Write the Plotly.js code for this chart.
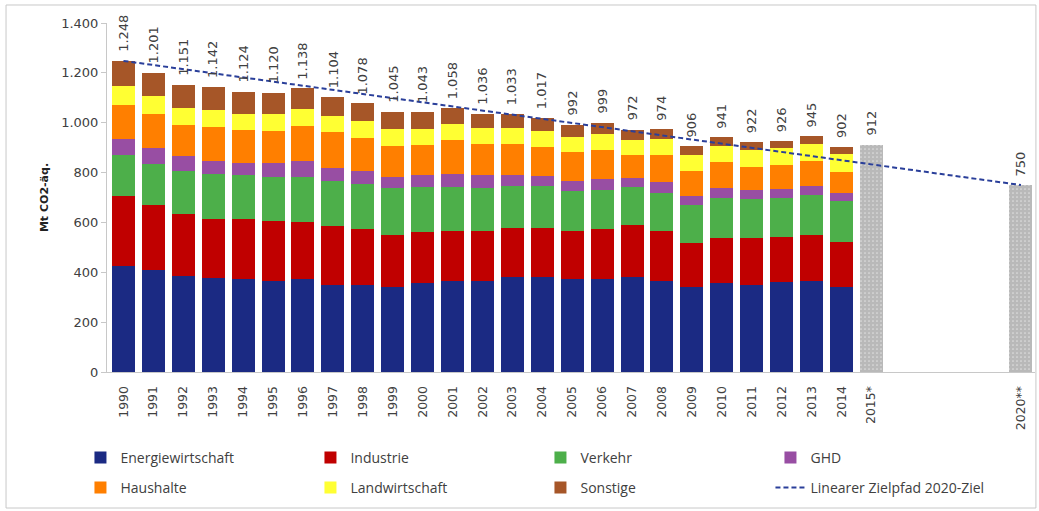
<!DOCTYPE html>
<html>
<head>
<meta charset="utf-8">
<script src="https://cdn.plot.ly/plotly-3.0.1.min.js"></script>
<style>
html,body{margin:0;padding:0;background:#ffffff;}
#chart{width:1039px;height:511px;}
</style>
</head>
<body>
<div id="chart"></div>
<script>
// ---- data (Mt CO2-äq.) ----
const years = [1990,1991,1992,1993,1994,1995,1996,1997,1998,1999,2000,2001,2002,2003,2004,2005,2006,2007,2008,2009,2010,2011,2012,2013,2014];
const energiewirtschaft = [426,410,387,378,374,365,373,351,351,343,357,367,367,383,381,375,375,383,366,343,357,351,362,366,342];
const industrie        = [281,260,247,237,241,241,228,236,222,207,204,199,199,194,196,192,200,207,200,174,182,188,180,184,181];
const verkehr          = [163,163,173,178,174,177,180,179,180,187,182,177,173,169,169,160,155,151,153,153,158,156,156,160,164];
const ghd              = [64,66,59,54,50,54,64,52,53,46,47,51,50,43,40,40,45,37,42,35,40,35,37,36,30];
const haushalte        = [136,136,124,136,131,130,141,143,132,123,119,135,124,125,117,114,115,93,110,102,104,93,95,100,84];
const landwirtschaft   = [76,71,69,67,63,66,69,65,68,68,66,66,64,65,64,62,64,59,64,63,65,67,67,67,73];
const sonstige         = [102,95,92,92,91,87,83,78,72,71,68,63,59,54,50,49,45,42,39,36,35,32,29,32,28];

const projYears  = [2015, 2020];
const projValues = [912, 750];
const projLabels = ['2015*', '2020**'];

const targetYears  = [1990, 2020];
const targetValues = [1248, 750];

const seriesNames  = ['Energiewirtschaft','Industrie','Verkehr','GHD','Haushalte','Landwirtschaft','Sonstige'];
const seriesValues = [energiewirtschaft, industrie, verkehr, ghd, haushalte, landwirtschaft, sonstige];
const seriesColors = ['#1b2a83','#c00000','#4daf4a','#984ea3','#ff7f00','#ffff33','#a65628'];
const seriesLegend = ['legend','legend','legend','legend','legend2','legend2','legend2'];

// ---- helpers ----
function fmtDE(v){
  const s = String(Math.round(v));
  return s.replace(/\B(?=(\d{3})+(?!\d))/g, '.');
}

const FONT = 'DejaVu Sans, Arial, sans-serif';
const TXT = '#404040';

const traces = seriesNames.map((name, i) => ({
  type: 'bar',
  name: name,
  x: years,
  y: seriesValues[i],
  width: 0.77,
  marker: {color: seriesColors[i], line: {width: 0}},
  legend: seriesLegend[i],
  hoverinfo: 'x+y+name'
}));

traces.push({
  type: 'bar',
  name: 'Prognose / Ziel',
  x: projYears,
  y: projValues,
  width: 0.77,
  showlegend: false,
  marker: {
    color: '#b9b9b9',
    line: {width: 0},
    pattern: {shape: '.', fgcolor: '#dedede', bgcolor: '#b9b9b9', size: 4, solidity: 0.15}
  }
});

traces.push({
  type: 'scatter',
  mode: 'lines',
  name: 'Linearer Zielpfad 2020-Ziel',
  x: targetYears,
  y: targetValues,
  line: {color: '#2a3f9a', width: 2, dash: '5px,3px'},
  legend: 'legend2'
});

// totals for labels
const totals = years.map((y, j) => seriesValues.reduce((s, arr) => s + arr[j], 0));
const labelX = years.concat(projYears);
const labelY = totals.concat(projValues);

const annotations = labelX.map((x, k) => ({
  x: x, y: labelY[k], xref: 'x', yref: 'y',
  text: fmtDE(labelY[k]),
  textangle: -90,
  showarrow: false,
  xanchor: 'center', yanchor: 'bottom',
  yshift: 7,
  font: {family: FONT, size: 13, color: TXT}
}));

const tickvals = years.concat(projYears);
const ticktext = years.map(String).concat(projLabels);

const legendCommon = {
  orientation: 'h',
  xanchor: 'left',
  yanchor: 'middle',
  x: -0.0286,
  entrywidth: 185,
  entrywidthmode: 'pixels',
  traceorder: 'normal',
  bgcolor: 'rgba(0,0,0,0)',
  font: {family: 'Open Sans, sans-serif', size: 14, color: TXT}
};

const layout = {
  width: 1039,
  height: 511,
  margin: {l: 107, r: 4, t: 23, b: 139, autoexpand: false},
  paper_bgcolor: '#ffffff',
  plot_bgcolor: '#ffffff',
  barmode: 'stack',
  separators: ',.',
  showlegend: true,
  xaxis: {
    range: [1989.45, 2020.47],
    tickmode: 'array',
    tickvals: tickvals,
    ticktext: ticktext,
    tickangle: -90,
    ticks: '',
    ticklabelstandoff: 8,
    showline: true,
    linecolor: '#c8c8c8',
    linewidth: 1,
    showgrid: false,
    zeroline: false,
    tickfont: {family: FONT, size: 12.5, color: TXT}
  },
  yaxis: {
    range: [0, 1400],
    dtick: 200,
    tick0: 0,
    tickformat: ',d',
    ticks: 'outside',
    ticklen: 5,
    tickcolor: '#c8c8c8',
    showline: true,
    linecolor: '#c8c8c8',
    linewidth: 1,
    showgrid: false,
    zeroline: false,
    tickfont: {family: FONT, size: 13, color: TXT},
    title: {text: 'Mt CO2-äq.', standoff: 10, font: {family: FONT, size: 11, color: '#222222', weight: 'bold'}}
  },
  legend: Object.assign({}, legendCommon, {y: -0.246}),
  legend2: Object.assign({}, legendCommon, {y: -0.332}),
  annotations: annotations,
  shapes: [{
    type: 'rect', xref: 'paper', yref: 'paper',
    x0: -0.1088, x1: 1.001, y0: -0.3897, y1: 1.0516,
    line: {color: '#c8c8c8', width: 1}, fillcolor: 'rgba(0,0,0,0)', layer: 'below'
  }]
};

Plotly.newPlot('chart', traces, layout, {displayModeBar: false, staticPlot: true});
</script>
</body>
</html>
